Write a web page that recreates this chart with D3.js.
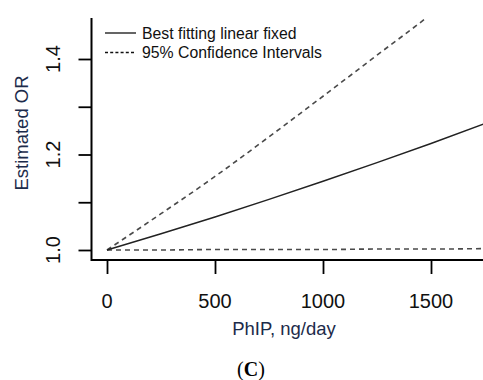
<!DOCTYPE html>
<html>
<head>
<meta charset="utf-8">
<script src="https://cdn.jsdelivr.net/npm/d3@7/dist/d3.min.js"></script>
<style>
  html, body { margin: 0; padding: 0; background: #fff; }
  svg { display: block; font-family: "Liberation Sans", Arial, sans-serif; }
</style>
</head>
<body>
<svg id="chart" width="483" height="380"></svg>
<script>
const doses = [0, 250, 500, 750, 1000, 1250, 1500, 1750];
// Estimated OR, best fitting linear fixed
const orFit = [1.000, 1.034, 1.069, 1.106, 1.144, 1.183, 1.223, 1.265];
// 95% confidence intervals
const orUpper = [1.000, 1.076, 1.154, 1.237, 1.322, 1.408, 1.494, 1.590];
const orLower = [1.000, 1.000, 1.001, 1.001, 1.001, 1.002, 1.002, 1.003];

const xTicks = [0, 500, 1000, 1500];
const yTicks = [1.0, 1.1, 1.2, 1.3, 1.4];
const yLabels = [1.0, 1.2, 1.4];

const legendItems = [
  { label: 'Best fitting linear fixed', dash: null },
  { label: '95% Confidence Intervals', dash: '3,2.2' }
];

const svg = d3.select('#chart');
const box = { left: 91.5, top: 18, bottom: 260, right: 483 };

const x = d3.scaleLinear().domain([0, 1750]).range([107, 485]);
const y = d3.scaleLinear().domain([1.0, 1.4]).range([250, 59]);

svg.append('clipPath').attr('id', 'plotClip')
  .append('rect')
  .attr('x', box.left).attr('y', box.top)
  .attr('width', box.right - box.left).attr('height', box.bottom - box.top);

/* ---- curves ---- */
const line = d3.line().x((d, i) => x(doses[i])).y(d => y(d)).curve(d3.curveMonotoneX);
const plot = svg.append('g').attr('clip-path', 'url(#plotClip)');

[orUpper, orLower].forEach(series => {
  plot.append('path')
    .attr('d', line(series))
    .attr('fill', 'none')
    .attr('stroke', '#4a4a4a')
    .attr('stroke-width', 1.6)
    .attr('stroke-dasharray', '5,4');
});
plot.append('path')
  .attr('d', line(orFit))
  .attr('fill', 'none')
  .attr('stroke', '#222')
  .attr('stroke-width', 1.5);

/* ---- axes ---- */
const yAxis = svg.append('g')
  .attr('transform', `translate(${box.left},0)`)
  .call(d3.axisLeft(y).tickValues(yTicks).tickSize(13).tickSizeOuter(0).tickFormat(''));
yAxis.select('.domain').remove();
yAxis.selectAll('.tick line').attr('stroke', '#000').attr('stroke-width', 1.8);

const xAxis = svg.append('g')
  .attr('transform', `translate(0,${box.bottom})`)
  .call(d3.axisBottom(x).tickValues(xTicks).tickSize(14).tickSizeOuter(0).tickFormat(''));
xAxis.select('.domain').remove();
xAxis.selectAll('.tick line').attr('stroke', '#000').attr('stroke-width', 1.8);

// L-shaped frame
svg.append('path')
  .attr('d', `M${box.left},${box.top}V${box.bottom}H${box.right}`)
  .attr('fill', 'none')
  .attr('stroke', '#000')
  .attr('stroke-width', 2);

// tick labels
svg.append('g').selectAll('text')
  .data(xTicks)
  .join('text')
  .attr('x', d => x(d))
  .attr('y', 308)
  .attr('text-anchor', 'middle')
  .attr('font-size', 20)
  .attr('fill', '#111')
  .text(d => d);

svg.append('g').selectAll('text')
  .data(yLabels)
  .join('text')
  .attr('transform', d => `translate(60,${y(d)}) rotate(-90)`)
  .attr('text-anchor', 'middle')
  .attr('font-size', 20)
  .attr('fill', '#111')
  .text(d => d.toFixed(1));

// axis titles
svg.append('text')
  .attr('x', 284)
  .attr('y', 335)
  .attr('text-anchor', 'middle')
  .attr('font-size', 18.5)
  .attr('fill', '#1c2b4a')
  .text('PhIP, ng/day');

svg.append('text')
  .attr('transform', 'translate(27.5,133) rotate(-90)')
  .attr('text-anchor', 'middle')
  .attr('font-size', 18.5)
  .attr('fill', '#1c2b4a')
  .text('Estimated OR');

// panel label
const panel = svg.append('text')
  .attr('x', 251)
  .attr('y', 376)
  .attr('text-anchor', 'middle')
  .attr('font-family', '"Liberation Serif", "Times New Roman", serif')
  .attr('font-size', 20)
  .attr('fill', '#000');
panel.append('tspan').text('(');
panel.append('tspan').attr('font-weight', 'bold').text('C');
panel.append('tspan').text(')');

/* ---- legend ---- */
const legend = svg.append('g').attr('transform', 'translate(105,33)');
legendItems.forEach((item, i) => {
  const row = legend.append('g').attr('transform', `translate(0,${i * 19.5})`);
  row.append('line')
    .attr('x1', 0).attr('x2', 31)
    .attr('stroke', '#111')
    .attr('stroke-width', 1.3)
    .attr('stroke-dasharray', item.dash);
  row.append('text')
    .attr('x', 37)
    .attr('y', 5.5)
    .attr('font-size', 15.8)
    .attr('fill', '#111')
    .text(item.label);
});
</script>
</body>
</html>
